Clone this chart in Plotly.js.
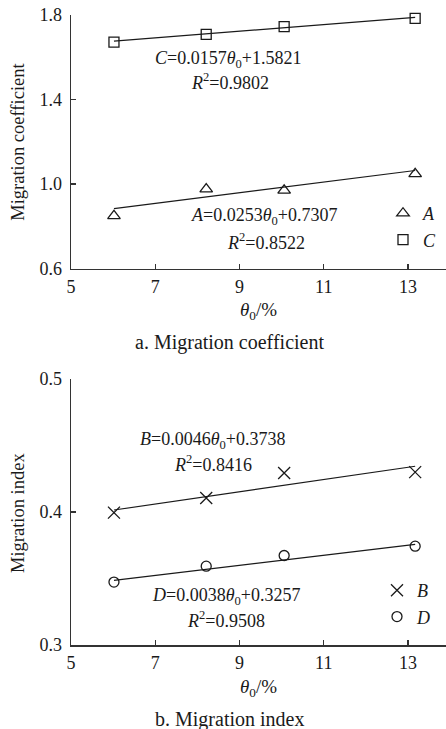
<!DOCTYPE html>
<html>
<head>
<meta charset="utf-8">
<script src="https://cdn.plot.ly/plotly-3.0.1.min.js"></script>
<style>html,body{margin:0;padding:0;background:#fff;}#chart{width:446px;height:729px;}</style>
</head>
<body>
<div id="chart"></div>
<script>
// ---- data ----
var theta0 = [6.02, 8.21, 10.06, 13.17];
var coefA = [0.849, 0.976, 0.970, 1.048];
var coefC = [1.672, 1.708, 1.745, 1.784];
var idxB = [0.3995, 0.4105, 0.4293, 0.4300];
var idxD = [0.3473, 0.3593, 0.3673, 0.3743];
var fitX = [6.02, 13.17];
var fitA = [0.883, 1.064];
var fitC = [1.676, 1.789];
var fitB = [0.4015, 0.4344];
var fitD = [0.3486, 0.3757];
var xTicks = [5, 7, 9, 11, 13];
var yTicksTop = [0.6, 1.0, 1.4, 1.8];
var yTicksBot = [0.3, 0.4, 0.5];
var eqA = ['<i>A</i>=0.0253<i>θ</i><sub>0</sub>+0.7307', '<i>R</i><sup>2</sup>=0.8522'];
var eqC = ['<i>C</i>=0.0157<i>θ</i><sub>0</sub>+1.5821', '<i>R</i><sup>2</sup>=0.9802'];
var eqB = ['<i>B</i>=0.0046<i>θ</i><sub>0</sub>+0.3738', '<i>R</i><sup>2</sup>=0.8416'];
var eqD = ['<i>D</i>=0.0038<i>θ</i><sub>0</sub>+0.3257', '<i>R</i><sup>2</sup>=0.9508'];

// ---- layout helpers (pixel -> paper) ----
var W = 446, H = 729, ML = 71, MR = 0, MT = 15, MB = 84;
var PW = W - ML - MR, PH = H - MT - MB;
function px(x) { return (x - ML) / PW; }
function py(y) { return (H - MB - y) / PH; }

var FONT = "'Liberation Serif', 'Times New Roman', serif";
var INK = '#1a1a1a';
var AX = '#333';

function mk(x, y, sym, size, xa, ya, name, lg) {
  return {x: x, y: y, type: 'scatter', mode: 'markers', name: name, cliponaxis: false,
    xaxis: xa, yaxis: ya, legend: lg,
    marker: {symbol: sym, size: size, color: INK, line: {color: INK, width: 1.3}}};
}
function fit(y, xa, ya) {
  return {x: fitX, y: y, type: 'scatter', mode: 'lines', showlegend: false, cliponaxis: false,
    xaxis: xa, yaxis: ya, line: {color: INK, width: 1.2}, hoverinfo: 'skip'};
}

var traces = [
  fit(fitA, 'x', 'y'), fit(fitC, 'x', 'y'),
  fit(fitB, 'x2', 'y2'), fit(fitD, 'x2', 'y2'),
  mk(theta0, coefA, 'triangle-up-open', 11, 'x', 'y', '<i>A</i>', 'legend'),
  mk(theta0, coefC, 'square-open', 10, 'x', 'y', '<i>C</i>', 'legend'),
  mk(theta0, idxB, 'x-thin-open', 12, 'x2', 'y2', '<i>B</i>', 'legend2'),
  mk(theta0, idxD, 'circle-open', 10, 'x2', 'y2', '<i>D</i>', 'legend2')
];

function xax(anchor) {
  return {anchor: anchor, range: [5, 5 + PW / 42.125], tickvals: xTicks, ticktext: xTicks.map(String),
    ticks: 'inside', ticklen: 5, tickwidth: 1.3, tickcolor: AX, showline: true, linecolor: AX, linewidth: 1.5,
    showgrid: false, zeroline: false, tickfont: {family: FONT, size: 18, color: INK}, ticklabelstandoff: 1};
}
function yax(anchor, domain, range, vals) {
  return {anchor: anchor, domain: domain, range: range, tickvals: vals, ticktext: vals.map(function (v) { return v.toFixed(1); }),
    ticks: 'inside', ticklen: 5, tickwidth: 1.3, tickcolor: AX, showline: true, linecolor: AX, linewidth: 1.5,
    showgrid: false, zeroline: false, tickfont: {family: FONT, size: 18, color: INK}, ticklabelstandoff: 4};
}

function ann(text, x, y, size, angle) {
  return {text: text, xref: 'paper', yref: 'paper', x: px(x), y: py(y), xanchor: 'center', yanchor: 'middle',
    showarrow: false, textangle: angle || 0, font: {family: FONT, size: size, color: INK}};
}

var annotations = [
  ann('Migration coefficient', 18, 141.75, 18.5, -90),
  ann('Migration index', 18, 513, 18.5, -90),
  ann('<i>θ</i><sub>0</sub>/%', 258, 311, 19),
  ann('<i>θ</i><sub>0</sub>/%', 258, 688, 19),
  ann('a. Migration coefficient', 229, 343, 20),
  ann('b. Migration index', 229, 719, 20),
  ann(eqC[0], 228, 60, 18), ann(eqC[1], 230, 82, 18),
  ann(eqA[0], 264, 216.5, 18), ann(eqA[1], 266, 241.5, 18),
  ann(eqB[0], 212.5, 440, 18), ann(eqB[1], 213, 463.5, 18),
  ann(eqD[0], 226, 596, 18), ann(eqD[1], 226, 619, 18)
];

var legendBase = {xanchor: 'left', yanchor: 'top', bgcolor: 'rgba(0,0,0,0)', borderwidth: 0,
  font: {family: FONT, size: 18, color: INK}, itemwidth: 30, tracegroupgap: 0};

var layout = {
  width: W, height: H, margin: {l: ML, r: MR, t: MT, b: MB, pad: 0},
  paper_bgcolor: '#fff', plot_bgcolor: '#fff', showlegend: true,
  font: {family: FONT, color: INK},
  xaxis: xax('y'), yaxis: yax('x', [py(268.5), 1], [0.6, 1.8], yTicksTop),
  xaxis2: xax('y2'), yaxis2: yax('x2', [0, py(379)], [0.3, 0.5], yTicksBot),
  legend: Object.assign({}, legendBase, {x: px(383), y: py(195)}),
  legend2: Object.assign({}, legendBase, {x: px(377), y: py(572)}),
  annotations: annotations
};

Plotly.newPlot('chart', traces, layout, {staticPlot: true, displayModeBar: false});
</script>
</body>
</html>
